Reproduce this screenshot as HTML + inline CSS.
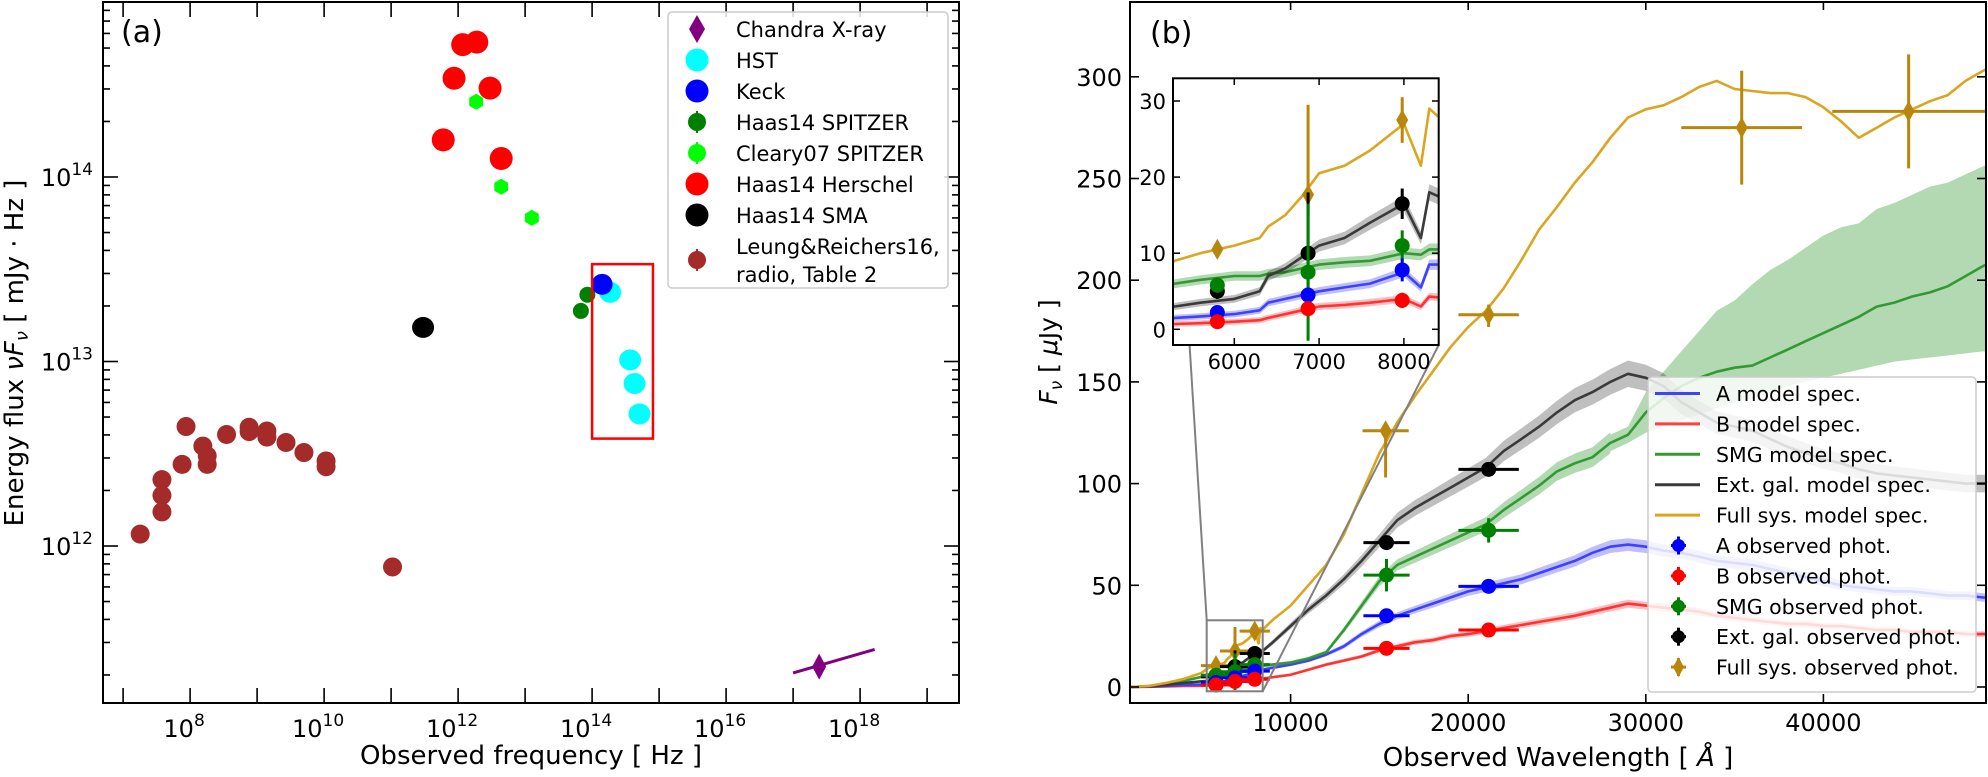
<!DOCTYPE html>
<html><head><meta charset="utf-8"><style>
html,body{margin:0;padding:0;background:#fff;}
svg{display:block;font-family:"DejaVu Sans","Liberation Sans",sans-serif;}
</style></head><body>
<svg id="fig" width="1988" height="777" viewBox="0 0 1988 777" xmlns="http://www.w3.org/2000/svg">
<defs>
<clipPath id="clipA"><rect x="103" y="2" width="856" height="701"/></clipPath>
<clipPath id="clipB"><rect x="1130" y="2" width="856" height="701"/></clipPath>
<clipPath id="clipI"><rect x="1173" y="78" width="266" height="267"/></clipPath>
</defs>
<g id="panelA"></g>
<g id="panelB"></g>
</svg>
<script>
// ---------- Panel (a) data ----------
const radioNu = [1.8e7,3.8e7,3.8e7,3.8e7,7.6e7,8.7e7,1.55e8,1.8e8,1.8e8,3.5e8,7.6e8,7.6e8,1.4e9,1.4e9,2.7e9,5.0e9,1.07e10,1.07e10,1.05e11];
const radioFlux = [1.16e12,2.29e12,1.88e12,1.53e12,2.77e12,4.44e12,3.48e12,3.08e12,2.77e12,4.02e12,4.40e12,4.17e12,4.20e12,3.89e12,3.64e12,3.21e12,2.89e12,2.69e12,7.7e11];
const herschelNu = [6.0e11,8.7e11,1.17e12,1.9e12,3.0e12,4.4e12];
const herschelFlux = [1.59e14,3.43e14,5.22e14,5.38e14,3.03e14,1.26e14];
const clearyNu = [1.86e12,4.4e12,1.26e13];
const clearyFlux = [2.56e14,8.85e13,6.0e13];
const smaNu = [3.0e11];
const smaFlux = [1.53e13];
const spitzerNu = [6.8e13,8.5e13];
const spitzerFlux = [1.88e13,2.30e13];
const keckNu = [1.41e14];
const keckFlux = [2.62e13];
const hstNu = [1.86e14,3.7e14,4.3e14,5.1e14];
const hstFlux = [2.37e13,1.02e13,7.6e12,5.2e12];
const chandraNu = [2.45e17];
const chandraFlux = [2.22e11];
const chandraLineNu = [1.0e17,1.65e18];
const chandraLineFlux = [2.05e11,2.75e11];
const boxNu = [1.0e14,8.1e14];
const boxFlux = [3.37e13,3.82e12];
const aXTicks = [8,10,12,14,16,18];
const aYTicks = [12,13,14];

// ---------- Panel (b) data ----------
const waves = [1000,2000,3000,4000,5000,5300,5600,6000,6300,6400,6600,6800,7000,7300,7600,8000,8200,8300,8400,9000,10000,11000,12000,13000,14000,15000,16000,17000,18000,19000,20000,21000,22000,23000,24000,25000,26000,27000,28000,29000,30000,31000,32000,33000,34000,35000,36000,37000,38000,39000,40000,41000,42000,43000,44000,45000,46000,47000,48000,49000,49500];
const fullSpec = [0,0.5,2,4,7,9,10,11,12,13.5,15,17.5,20.5,21.5,23.5,27,21.5,29,28,33,40,50,60,75,95,115,130,143,155,167,177,185,196,210,225,236,248,258,270,280,284,286,290,295,298,294,293,292,292,290,285,278,270,275,280,284,288,291,298,303,305];
const extSpec = [0,0.3,1,2,2.8,3,3.5,4,5,7,8,9.5,11,12,14,16.5,12,18,17.5,22,30,38,45,53,62,72,82,88,93,98,103,108,116,122,128,135,141,145,150,154,152,148,140,135,130,128,126,122,118,115,112,110,107,105,104,103,102,101,100,100,100];
const smgSpec = [0,0.5,1.5,3,5,6,6.5,7,7,7.3,7.5,8,8.5,8.8,9,10,9.8,10.5,10.5,11,12,14,17,28,40,52,60,64,68,72,76,80,87,93,99,106,110,113,120,124,135,142,148,152,155,157,158,162,166,170,174,178,182,187,189,192,194,197,202,207,209];
const aSpec = [0,0.2,0.6,1,1.3,1.5,1.7,2,2.5,3.5,4,4.5,5,5.5,6,7.5,5.5,8.5,8.5,9.5,11,13,16,20,26,31,35,38,41,44,47,49,51,53,56,59,62,66,69,70,69,67,66,64,62,61,60,58,56,54,52,50,49,48,47,47,46,45,45,44,44];
const bSpec = [0,0.1,0.3,0.5,0.6,0.7,0.8,1,1.2,1.5,2,2.5,3,3.2,3.5,4,3,4.3,4.2,4.8,6,8.5,11,13,15,18,20,22,23,25,26,27.5,29,30.5,32,33.5,35,37,39,41,40,39,38,37,35,34,33,32,31,31,30,30,29,28,28,27,27,27,26,26,26];
const smgBandW = [28000,29000,30000,31000,32000,33000,34000,35000,36000,37000,38000,39000,40000,41000,42000,43000,44000,45000,46000,47000,48000,49000,49500];
const smgBandHi = [124,128,145,155,165,175,185,190,198,205,210,216,222,226,228,235,238,242,246,248,252,256,258];
const smgBandLo = [116,120,125,128,131,134,137,140,142,145,148,150,152,154,156,158,160,161,162,163,164,165,165];
const photW = [5800,6870,7980,15400,21150];
const photXErr = [850,850,850,1300,1700];
const extPhot = [5,10,16.5,71,107];
const extErr = [1,8,2,3,3];
const smgPhot = [5.8,7.5,11,55,77];
const smgErr = [1,9,2,8,6];
const aPhot = [2.2,4.5,7.8,35,49.5];
const aErr = [0.8,1,1.5,3,3];
const bPhot = [1,2.7,3.8,19,28];
const bErr = [0.5,1,1,2,2];
const fullW = [5800,6870,7980,15350,21150,35400,44800];
const fullPhot = [10.5,17.7,27.5,126,183,275,283];
const fullErrLo = [1,2.7,3,23,6,28,28];
const fullErrHi = [1,11.8,3,3,5,28,28];
const fullXErr = [850,850,850,1300,1700,3400,4300];
const bXTicks = [10000,20000,30000,40000];
const bYTicks = [0,50,100,150,200,250,300];
const insetXTicks = [6000,7000,8000];
const insetYTicks = [0,10,20,30];

const NS = "http://www.w3.org/2000/svg";
function mk(parent, tag, attrs, text){
  const e = document.createElementNS(NS, tag);
  for (const k in attrs) e.setAttribute(k, attrs[k]);
  if (text !== undefined) e.textContent = text;
  parent.appendChild(e);
  return e;
}
const L = Math.log10;
const ax = v => 103 + (L(v) - 6.70) * 67;
const ay = v => 546 - (L(v) - 12) * 184.5;
const bx = w => 1113 + w * 0.01776;
const by = f => 687 - f * 2.034;
const ix = w => 1234.3 + (w - 6000) * 0.0848;
const iy = f => 329.3 - f * 7.61;

// ===== Panel (a) =====
const pa = document.getElementById('panelA');
const ga = mk(pa, 'g', {'clip-path':'url(#clipA)'});


function dots(nu, fl, color, rx, ry, name){
  for (let i = 0; i < nu.length; i++){
    const c = mk(ga, 'ellipse', {cx: ax(nu[i]), cy: ay(fl[i]), rx: rx, ry: ry, fill: color});
    
    
  }
}
function hexes(nu, fl, color, r, name){
  for (let i = 0; i < nu.length; i++){
    const cx = ax(nu[i]), cy = ay(fl[i]);
    let p = [];
    for (let k = 0; k < 6; k++){ const t = Math.PI/6 + k*Math.PI/3; p.push((cx + r*Math.cos(t)).toFixed(1) + ',' + (cy + r*Math.sin(t)).toFixed(1)); }
    const h = mk(ga, 'polygon', {points: p.join(' '), fill: color});
    
    
  }
}
dots(radioNu, radioFlux, '#a52a2a', 9.5, 9.5, 'radio');
dots(herschelNu, herschelFlux, '#ff0000', 11.5, 11.5, 'herschel');
hexes(clearyNu, clearyFlux, '#00ff00', 8, 'cleary07-spitzer');
dots(smaNu, smaFlux, '#000000', 11, 10.5, 'sma');
dots(spitzerNu, spitzerFlux, '#008000', 8, 8, 'haas14-spitzer');
dots(hstNu, hstFlux, '#00ffff', 11, 10.5, 'hst');
dots(keckNu, keckFlux, '#0000ff', 10.5, 10.5, 'keck');
const chl = mk(ga, 'line', {x1: ax(chandraLineNu[0]), y1: ay(chandraLineFlux[0]), x2: ax(chandraLineNu[1]), y2: ay(chandraLineFlux[1]), stroke: '#800080', 'stroke-width': 3});


{
  const cx = ax(chandraNu[0]), cy = ay(chandraFlux[0]);
  const d = mk(ga, 'polygon', {points: `${cx},${cy-13} ${cx+7},${cy} ${cx},${cy+13} ${cx-7},${cy}`, fill: '#800080'});
  
  
}
const box = mk(ga, 'rect', {x: ax(boxNu[0]), y: ay(boxFlux[0]), width: ax(boxNu[1]) - ax(boxNu[0]), height: ay(boxFlux[1]) - ay(boxFlux[0]), fill: 'none', stroke: '#ff0000', 'stroke-width': 2.5});



const fa = mk(pa, 'rect', {x: 103, y: 2, width: 856, height: 701, fill: 'none', stroke: '#000', 'stroke-width': 2});


for (let e = 7; e <= 19; e++){
  const x = ax(Math.pow(10, e));
  mk(pa, 'line', {x1: x, y1: 703, x2: x, y2: 688, stroke: '#000', 'stroke-width': 1.6});
  mk(pa, 'line', {x1: x, y1: 2, x2: x, y2: 17, stroke: '#000', 'stroke-width': 1.6});
}
for (const e of aXTicks){
  const t = mk(pa, 'text', {x: ax(Math.pow(10, e)) - 6, y: 737, 'text-anchor': 'middle', 'font-size': 24}, '10');
  mk(t, 'tspan', {dy: -11, 'font-size': 17}, String(e));
  
  
}
for (let e = 11; e <= 14; e++){
  for (let m = 1; m <= 9; m++){
    const v = m * Math.pow(10, e);
    const y = ay(v);
    if (y < 3 || y > 702) continue;
    const len = m === 1 ? 15 : 7;
    mk(pa, 'line', {x1: 103, y1: y, x2: 103 + len, y2: y, stroke: '#000', 'stroke-width': 1.6});
    mk(pa, 'line', {x1: 959, y1: y, x2: 959 - len, y2: y, stroke: '#000', 'stroke-width': 1.6});
  }
}
for (const e of aYTicks){
  const t = mk(pa, 'text', {x: 93, y: ay(Math.pow(10, e)) + 9, 'text-anchor': 'end', 'font-size': 24}, '10');
  mk(t, 'tspan', {dy: -11, 'font-size': 17}, String(e));
  
  
}
const xta = mk(pa, 'text', {x: 531, y: 764, 'text-anchor': 'middle', 'font-size': 26}, 'Observed frequency [ Hz ]');


{
  const t = mk(pa, 'text', {x: 0, y: 0, transform: 'translate(23,353) rotate(-90)', 'text-anchor': 'middle', 'font-size': 26});
  mk(t, 'tspan', {}, 'Energy flux ');
  mk(t, 'tspan', {'font-style': 'italic'}, 'νF');
  mk(t, 'tspan', {'font-style': 'italic', 'font-size': 18, dy: 5}, 'ν');
  mk(t, 'tspan', {dy: -5}, ' [ mJy · Hz ]');
  
  
}
const labA = mk(pa, 'text', {x: 121, y: 42, 'font-size': 30}, '(a)');



const lgA = mk(pa, 'g', {});


mk(lgA, 'rect', {x: 668, y: 12, width: 280, height: 276, rx: 4, fill: 'rgba(255,255,255,0.85)', stroke: '#cccccc', 'stroke-width': 1.5});
const legAItems = [
  ['Chandra X-ray', 'diamond', '#800080', 29],
  ['HST', 'circle', '#00ffff', 60],
  ['Keck', 'circle', '#0000ff', 91],
  ['Haas14 SPITZER', 'small', '#008000', 122],
  ['Cleary07 SPITZER', 'small', '#00ff00', 153],
  ['Haas14 Herschel', 'circle', '#ff0000', 184],
  ['Haas14 SMA', 'circle', '#000000', 215],
  ['Leung&Reichers16,', 'small', '#a52a2a', 260]
];
for (const it of legAItems){
  const g = mk(lgA, 'g', {});
  
  
  const y = it[3], x = 697;
  if (it[1] === 'diamond') mk(g, 'polygon', {points: `${x},${y-14} ${x+8},${y} ${x},${y+14} ${x-8},${y}`, fill: it[2]});
  else if (it[1] === 'circle') mk(g, 'circle', {cx: x, cy: y, r: 11.5, fill: it[2]});
  else { mk(g, 'circle', {cx: x, cy: y, r: 9, fill: it[2]}); mk(g, 'line', {x1: x, y1: y-11, x2: x, y2: y+11, stroke: it[2], 'stroke-width': 2}); }
  if (it[0].startsWith('Leung')){
    mk(g, 'text', {x: 736, y: 254, 'font-size': 21}, 'Leung&Reichers16,');
    mk(g, 'text', {x: 736, y: 282, 'font-size': 21}, 'radio, Table 2');
  } else {
    mk(g, 'text', {x: 736, y: y + 8, 'font-size': 21}, it[0]);
  }
}

// ===== Panel (b) =====
const pb = document.getElementById('panelB');
function linePath(X, Y, ws, vs){
  let d = '';
  for (let i = 0; i < ws.length; i++) d += (i ? 'L' : 'M') + X(ws[i]).toFixed(1) + ',' + Y(vs[i]).toFixed(1);
  return d;
}
function bandPath(X, Y, ws, lo, hi){
  let d = '';
  for (let i = 0; i < ws.length; i++) d += (i ? 'L' : 'M') + X(ws[i]).toFixed(1) + ',' + Y(hi[i]).toFixed(1);
  for (let i = ws.length - 1; i >= 0; i--) d += 'L' + X(ws[i]).toFixed(1) + ',' + Y(lo[i]).toFixed(1);
  return d + 'Z';
}
const spectra = [
  ['b-model-spec', bSpec, '#ff3333', 'rgba(255,0,0,0.25)', 99999],
  ['a-model-spec', aSpec, '#4040ff', 'rgba(0,0,255,0.25)', 99999],
  ['smg-model-spec', smgSpec, '#339933', 'rgba(0,128,0,0.3)', 28500],
  ['ext-gal-model-spec', extSpec, '#3a3a3a', 'rgba(0,0,0,0.25)', 99999],
  ['full-sys-model-spec', fullSpec, '#daa520', null, 0]
];
function drawSpectra(parent, X, Y, sw){
  const gb = mk(parent, 'path', {d: bandPath(X, Y, smgBandW, smgBandLo, smgBandHi), fill: 'rgba(0,128,0,0.3)', stroke: 'none'});
  
  
  for (const s of spectra){
    if (s[3]){
      const idx = waves.map((w, i) => i).filter(i => waves[i] <= s[4]);
      const ws = idx.map(i => waves[i]);
      const lo = idx.map(i => s[1][i] * 0.96 - 0.35), hi = idx.map(i => s[1][i] * 1.04 + 0.35);
      const b = mk(parent, 'path', {d: bandPath(X, Y, ws, lo, hi), fill: s[3], stroke: 'none'});
      
      
    }
    const p = mk(parent, 'path', {d: linePath(X, Y, waves, s[1]), fill: 'none', stroke: s[2], 'stroke-width': sw, 'stroke-linejoin': 'round'});
    
    
  }
}
function drawPhot(parent, X, Y, ws, vs, lo, hi, xe, color, shape, name, r, showX){
  for (let i = 0; i < ws.length; i++){
    const g = mk(parent, 'g', {});
    
    
    const cx = X(ws[i]), cy = Y(vs[i]);
    if (showX) mk(g, 'line', {x1: X(ws[i] - xe[i]), y1: cy, x2: X(ws[i] + xe[i]), y2: cy, stroke: color, 'stroke-width': 3});
    mk(g, 'line', {x1: cx, y1: Y(vs[i] - lo[i]), x2: cx, y2: Y(vs[i] + hi[i]), stroke: color, 'stroke-width': 3});
    if (shape === 'diamond') mk(g, 'polygon', {points: `${cx},${cy-r*1.4} ${cx+r*0.8},${cy} ${cx},${cy+r*1.4} ${cx-r*0.8},${cy}`, fill: color});
    else mk(g, 'circle', {cx: cx, cy: cy, r: r, fill: color});
  }
}
function drawAllPhot(parent, X, Y, r, showX){
  drawPhot(parent, X, Y, fullW, fullPhot, fullErrLo, fullErrHi, fullXErr, '#b8860b', 'diamond', 'full-sys-phot', r, showX);
  drawPhot(parent, X, Y, photW, extPhot, extErr, extErr, photXErr, '#000000', 'circle', 'ext-gal-phot', r, showX);
  drawPhot(parent, X, Y, photW, smgPhot, smgErr, smgErr, photXErr, '#008000', 'circle', 'smg-phot', r, showX);
  drawPhot(parent, X, Y, photW, aPhot, aErr, aErr, photXErr, '#0000ff', 'circle', 'a-phot', r, showX);
  drawPhot(parent, X, Y, photW, bPhot, bErr, bErr, photXErr, '#ff0000', 'circle', 'b-phot', r, showX);
}
const gbMain = mk(pb, 'g', {'clip-path': 'url(#clipB)'});


drawSpectra(gbMain, bx, by, 2.6);
drawAllPhot(gbMain, bx, by, 7.5, true);

const zr = mk(pb, 'rect', {x: 1206.7, y: 620.3, width: 56, height: 71, fill: 'none', stroke: '#808080', 'stroke-width': 2});


mk(pb, 'line', {x1: 1173, y1: 78.3, x2: 1206.7, y2: 620.3, stroke: '#808080', 'stroke-width': 2});
mk(pb, 'line', {x1: 1438.7, y1: 345, x2: 1262.7, y2: 691.3, stroke: '#808080', 'stroke-width': 2});

const fb = mk(pb, 'rect', {x: 1130, y: 2, width: 856, height: 701, fill: 'none', stroke: '#000', 'stroke-width': 2});


for (const w of bXTicks){
  const x = bx(w);
  mk(pb, 'line', {x1: x, y1: 703, x2: x, y2: 694, stroke: '#000', 'stroke-width': 1.6});
  mk(pb, 'line', {x1: x, y1: 2, x2: x, y2: 10, stroke: '#000', 'stroke-width': 1.6});
  const t = mk(pb, 'text', {x: x, y: 731, 'text-anchor': 'middle', 'font-size': 24}, String(w));
  
  
}
for (const f of bYTicks){
  const y = by(f);
  mk(pb, 'line', {x1: 1130, y1: y, x2: 1139, y2: y, stroke: '#000', 'stroke-width': 1.6});
  mk(pb, 'line', {x1: 1986, y1: y, x2: 1977, y2: y, stroke: '#000', 'stroke-width': 1.6});
  const t = mk(pb, 'text', {x: 1122, y: y + 9, 'text-anchor': 'end', 'font-size': 24}, String(f));
  
  
}
const xtb = mk(pb, 'text', {x: 1558, y: 766, 'text-anchor': 'middle', 'font-size': 26}, 'Observed Wavelength [ ');
mk(xtb, 'tspan', {'font-style': 'italic'}, 'Å');
mk(xtb, 'tspan', {}, ' ]');


{
  const t = mk(pb, 'text', {x: 0, y: 0, transform: 'translate(1057,352) rotate(-90)', 'text-anchor': 'middle', 'font-size': 25});
  mk(t, 'tspan', {'font-style': 'italic'}, 'F');
  mk(t, 'tspan', {'font-style': 'italic', 'font-size': 17, dy: 5}, 'ν');
  mk(t, 'tspan', {dy: -5}, '  [ ');
  mk(t, 'tspan', {'font-style': 'italic'}, 'μ');
  mk(t, 'tspan', {}, 'Jy ]');
  
  
}
const labB = mk(pb, 'text', {x: 1150, y: 43, 'font-size': 30}, '(b)');



const lgB = mk(pb, 'g', {});


mk(lgB, 'rect', {x: 1648, y: 377, width: 328, height: 315, rx: 4, fill: 'rgba(255,255,255,0.82)', stroke: '#cccccc', 'stroke-width': 1.5});
const legBItems = [
  ['A model spec.', 'line', '#4040ff'],
  ['B model spec.', 'line', '#ff4040'],
  ['SMG model spec.', 'line', '#339933'],
  ['Ext. gal. model spec.', 'line', '#3a3a3a'],
  ['Full sys. model spec.', 'line', '#daa520'],
  ['A observed phot.', 'circle', '#0000ff'],
  ['B observed phot.', 'circle', '#ff0000'],
  ['SMG observed phot.', 'circle', '#008000'],
  ['Ext. gal. observed phot.', 'circle', '#000000'],
  ['Full sys. observed phot.', 'diamond', '#b8860b']
];
legBItems.forEach((it, i) => {
  const y = 393.5 + i * 30.4;
  const g = mk(lgB, 'g', {});
  
  
  if (it[1] === 'line') mk(g, 'line', {x1: 1655, y1: y, x2: 1700, y2: y, stroke: it[2], 'stroke-width': 3});
  else {
    mk(g, 'line', {x1: 1671, y1: y, x2: 1686, y2: y, stroke: it[2], 'stroke-width': 3});
    mk(g, 'line', {x1: 1678.5, y1: y - 9, x2: 1678.5, y2: y + 9, stroke: it[2], 'stroke-width': 3});
    if (it[1] === 'circle') mk(g, 'circle', {cx: 1678.5, cy: y, r: 6.5, fill: it[2]});
    else mk(g, 'polygon', {points: `1678.5,${y-10} 1684,${y} 1678.5,${y+10} 1673,${y}`, fill: it[2]});
  }
  mk(g, 'text', {x: 1716, y: y + 7.5, 'font-size': 20.5}, it[0]);
});

const ins = mk(pb, 'g', {});


mk(ins, 'rect', {x: 1173, y: 78.3, width: 265.7, height: 266.7, fill: '#fff'});
const insC = mk(ins, 'g', {'clip-path': 'url(#clipI)'});
drawSpectra(insC, ix, iy, 2.6);
drawAllPhot(insC, ix, iy, 7.5, false);
mk(ins, 'rect', {x: 1173, y: 78.3, width: 265.7, height: 266.7, fill: 'none', stroke: '#000', 'stroke-width': 2});
for (const w of insetXTicks){
  const x = ix(w);
  mk(ins, 'line', {x1: x, y1: 345, x2: x, y2: 338, stroke: '#000', 'stroke-width': 1.5});
  mk(ins, 'line', {x1: x, y1: 78.3, x2: x, y2: 85, stroke: '#000', 'stroke-width': 1.5});
  const t = mk(ins, 'text', {x: x, y: 369, 'text-anchor': 'middle', 'font-size': 21}, String(w));
  
  
}
for (const f of insetYTicks){
  const y = iy(f);
  mk(ins, 'line', {x1: 1173, y1: y, x2: 1180, y2: y, stroke: '#000', 'stroke-width': 1.5});
  mk(ins, 'line', {x1: 1438.7, y1: y, x2: 1432, y2: y, stroke: '#000', 'stroke-width': 1.5});
  const t = mk(ins, 'text', {x: 1166, y: y + 8, 'text-anchor': 'end', 'font-size': 21}, String(f));
  
  
}
</script>
</body></html>
